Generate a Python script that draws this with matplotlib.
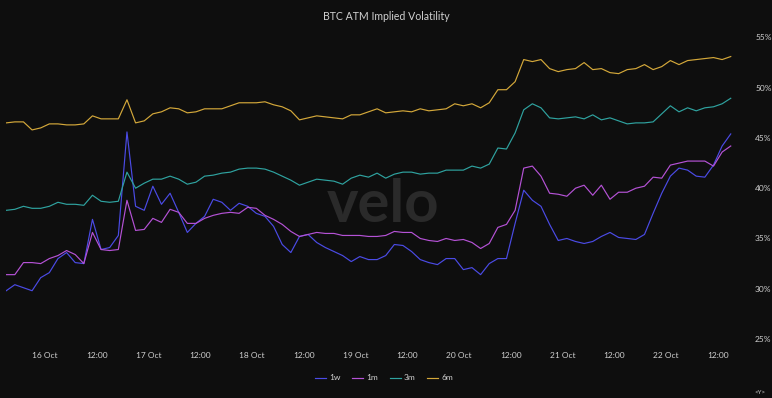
import matplotlib
matplotlib.use("Agg")
import matplotlib.pyplot as plt
import matplotlib.dates as mdates
import pandas as pd

# timestamps every 2h, 15 Oct 15:00 -> 22 Oct 15:00
times = pd.date_range("2023-10-15 15:00", periods=85, freq="2h")

# ATM implied vol (%)
iv_1w = [29.8, 30.4, 30.1, 29.8, 31.1, 31.6, 33.0, 33.6, 32.6, 32.5,
         36.9, 33.9, 34.1, 35.3, 45.6, 38.2, 37.8, 40.2, 38.4, 39.5,
         37.6, 35.6, 36.5, 37.2, 38.9, 38.6, 37.8, 38.5, 38.2, 37.5,
         37.2, 36.2, 34.4, 33.6, 35.2, 35.4, 34.6, 34.1, 33.7, 33.3,
         32.7, 33.2, 32.9, 32.9, 33.3, 34.4, 34.3, 33.7, 32.9, 32.6,
         32.4, 33.0, 33.0, 31.9, 32.1, 31.4, 32.5, 33.0, 33.0, 36.5,
         39.8, 38.8, 38.2, 36.4, 34.8, 35.0, 34.7, 34.5, 34.7, 35.2,
         35.6, 35.1, 35.0, 34.9, 35.4, 37.5, 39.5, 41.2, 42.0, 41.8,
         41.2, 41.1, 42.3, 44.2, 45.4]
iv_1m = [31.4, 31.4, 32.6, 32.6, 32.5, 33.0, 33.3, 33.8, 33.4, 32.5,
         35.6, 33.9, 33.8, 33.9, 38.8, 35.8, 35.9, 37.0, 36.6, 37.9,
         37.6, 36.5, 36.5, 37.0, 37.3, 37.5, 37.6, 37.5, 38.1, 38.0,
         37.3, 36.9, 36.4, 35.7, 35.2, 35.4, 35.6, 35.5, 35.5, 35.3,
         35.3, 35.3, 35.2, 35.2, 35.3, 35.7, 35.6, 35.6, 35.0, 34.8,
         34.7, 35.0, 34.8, 34.9, 34.6, 34.0, 34.5, 36.1, 36.4, 37.8,
         42.0, 42.2, 41.2, 39.5, 39.4, 39.2, 40.0, 40.3, 39.3, 40.3,
         38.9, 39.6, 39.6, 40.0, 40.2, 41.1, 41.0, 42.3, 42.5, 42.7,
         42.7, 42.7, 42.2, 43.6, 44.2]
iv_3m = [37.8, 37.9, 38.2, 38.0, 38.0, 38.2, 38.6, 38.4, 38.4, 38.3,
         39.3, 38.7, 38.6, 38.7, 41.6, 40.0, 40.5, 40.9, 40.9, 41.2,
         40.9, 40.4, 40.6, 41.2, 41.3, 41.5, 41.6, 41.9, 42.0, 42.0,
         41.9, 41.6, 41.2, 40.8, 40.3, 40.6, 40.9, 40.8, 40.7, 40.4,
         41.0, 41.3, 41.1, 41.5, 41.0, 41.4, 41.6, 41.6, 41.4, 41.5,
         41.5, 41.8, 41.8, 41.8, 42.2, 42.0, 42.4, 44.0, 43.9, 45.5,
         47.8, 48.4, 48.0, 47.0, 46.9, 47.0, 47.1, 46.9, 47.3, 46.8,
         47.0, 46.7, 46.4, 46.5, 46.5, 46.6, 47.4, 48.2, 47.6, 48.0,
         47.7, 48.0, 48.1, 48.4, 48.95]
iv_6m = [46.5, 46.6, 46.6, 45.8, 46.0, 46.4, 46.4, 46.3, 46.3, 46.4,
         47.2, 46.9, 46.9, 46.9, 48.8, 46.5, 46.7, 47.4, 47.6, 48.0,
         47.9, 47.5, 47.6, 47.9, 47.9, 47.9, 48.2, 48.5, 48.5, 48.5,
         48.6, 48.3, 48.1, 47.7, 46.8, 47.0, 47.2, 47.1, 47.0, 46.9,
         47.3, 47.3, 47.6, 47.9, 47.5, 47.6, 47.7, 47.6, 47.9, 47.7,
         47.8, 47.9, 48.4, 48.2, 48.4, 48.0, 48.5, 49.8, 49.8, 50.6,
         52.8, 52.6, 52.8, 51.9, 51.6, 51.8, 51.9, 52.5, 51.8, 51.9,
         51.5, 51.4, 51.8, 51.9, 52.3, 51.8, 52.1, 52.7, 52.3, 52.7,
         52.8, 52.9, 53.0, 52.8, 53.1]

labels = ["1w", "1m", "3m", "6m"]
colors = ["#4b4be6", "#b552d6", "#2fa3a0", "#d4a83a"]
y_ticks = [25, 30, 35, 40, 45, 50, 55]

bg = "#0e0e0e"
txt = "#d0d0d0"
plt.rcParams["font.family"] = ["Lato", "DejaVu Sans"]

fig = plt.figure(figsize=(7.72, 3.98), dpi=100, facecolor=bg)
ax = fig.add_axes([6.2 / 772, 1 - 344 / 398, 726.7 / 772, (344 - 27.4) / 398])
ax.set_facecolor(bg)

# watermark
fig.text(383 / 772, 1 - 205 / 398, "velo", color="#2a2a2a", fontsize=43,
         fontweight="bold", ha="center", va="center", zorder=0)

for series, lab, col in zip([iv_1w, iv_1m, iv_3m, iv_6m], labels, colors):
    ax.plot(times, series, color=col, lw=0.85, label=lab)

ax.set_xlim(times[0], pd.Timestamp("2023-10-22 15:30"))
ax.set_ylim(24.5, 56)

# x ticks every 12h: day label at midnight, 12:00 at noon
xt = pd.date_range("2023-10-16", "2023-10-22 12:00", freq="12h")
ax.set_xticks(mdates.date2num(xt))
ax.set_xticklabels([t.strftime("%-d %b") if t.hour == 0 else "12:00" for t in xt])

ax.yaxis.tick_right()
ax.set_yticks(y_ticks)
ax.set_yticklabels([f"{v}%" for v in y_ticks])
ax.tick_params(axis="both", length=0, colors=txt, labelsize=6)
ax.tick_params(axis="x", pad=6)
ax.tick_params(axis="y", pad=16)
for s in ax.spines.values():
    s.set_visible(False)

fig.text(386 / 772, 1 - 17 / 398, "BTC ATM Implied Volatility", color=txt,
         fontsize=7.6, ha="center", va="center")

leg = fig.legend(loc="center", bbox_to_anchor=(384 / 772, 1 - 378 / 398), ncol=4,
                 frameon=False, fontsize=6, handlelength=1.3, handletextpad=0.4,
                 columnspacing=1.4)
for t in leg.get_texts():
    t.set_color(txt)

fig.text(760 / 772, 1 - 392 / 398, "<Y>", color=txt, fontsize=4.5,
         ha="center", va="center")

fig.savefig("out.png", dpi=100, facecolor=bg)
